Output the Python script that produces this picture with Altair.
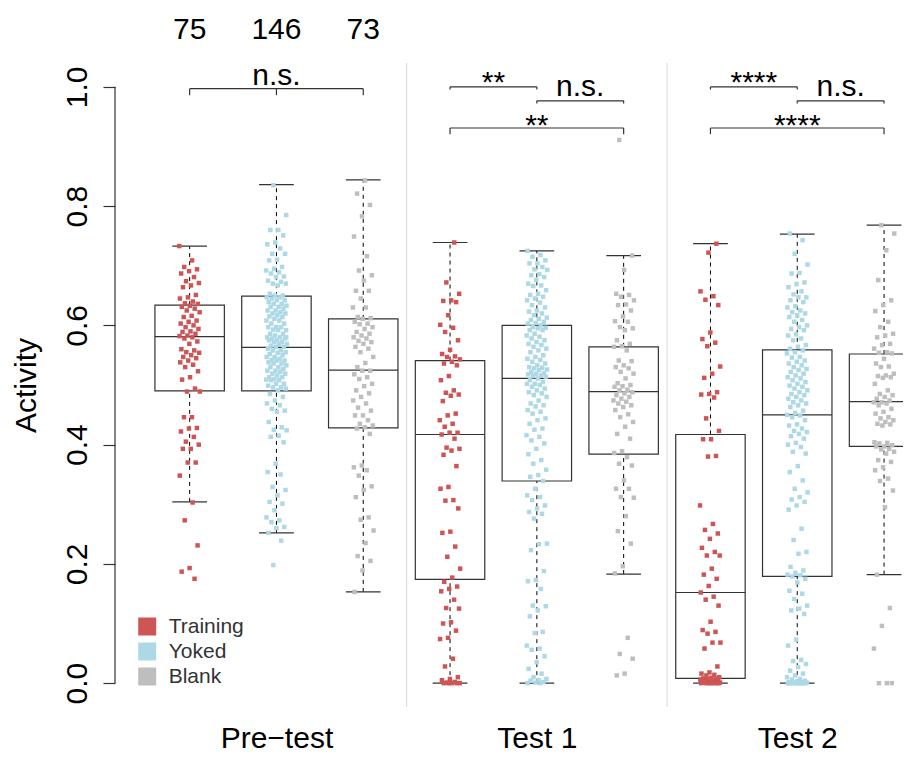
import altair as alt
import pandas as pd

# ---------------- data ----------------
conditions = ["Pre\u2212test", "Test 1", "Test 2"]
groups = ["Training", "Yoked", "Blank"]
group_n = [75, 146, 73]
colors = ["#CD5555", "#ADD8E6", "#BEBEBE"]

# box statistics, order: Pre-test (T,Y,B), Test 1 (T,Y,B), Test 2 (T,Y,B)
box_lower = [0.304, 0.252, 0.153, 0.000, 0.000, 0.183, 0.000, 0.000, 0.182]
box_q1 = [0.490, 0.490, 0.428, 0.174, 0.339, 0.384, 0.008, 0.179, 0.397]
box_median = [0.581, 0.563, 0.525, 0.417, 0.511, 0.489, 0.152, 0.450, 0.472]
box_q3 = [0.634, 0.649, 0.611, 0.541, 0.600, 0.564, 0.417, 0.559, 0.552]
box_upper = [0.733, 0.836, 0.844, 0.739, 0.725, 0.717, 0.737, 0.753, 0.768]

pre_training = [0.733, 0.709, 0.698, 0.694, 0.691, 0.687, 0.681, 0.674, 0.671, 0.667, 0.664, 0.651,
                0.647, 0.645, 0.640, 0.637, 0.636, 0.633, 0.631, 0.628, 0.625, 0.622, 0.616, 0.614,
                0.608, 0.606, 0.603, 0.600, 0.597, 0.594, 0.590, 0.589, 0.586, 0.583, 0.582, 0.580,
                0.578, 0.573, 0.569, 0.560, 0.558, 0.555, 0.554, 0.550, 0.547, 0.545, 0.541, 0.538,
                0.534, 0.530, 0.523, 0.513, 0.509, 0.494, 0.489, 0.489, 0.446, 0.446, 0.428, 0.427,
                0.422, 0.413, 0.405, 0.400, 0.393, 0.393, 0.370, 0.370, 0.348, 0.303, 0.273, 0.231,
                0.193, 0.187, 0.175]
pre_yoked = [0.835, 0.785, 0.760, 0.760, 0.751, 0.739, 0.736, 0.729, 0.720, 0.720, 0.710, 0.709,
             0.698, 0.695, 0.692, 0.689, 0.687, 0.682, 0.681, 0.675, 0.673, 0.670, 0.670, 0.667,
             0.653, 0.650, 0.650, 0.647, 0.647, 0.645, 0.642, 0.642, 0.639, 0.636, 0.636, 0.633,
             0.631, 0.631, 0.628, 0.625, 0.625, 0.622, 0.620, 0.620, 0.617, 0.615, 0.614, 0.611,
             0.608, 0.608, 0.603, 0.603, 0.597, 0.597, 0.597, 0.593, 0.592, 0.592, 0.586, 0.586,
             0.583, 0.580, 0.580, 0.578, 0.578, 0.575, 0.575, 0.572, 0.572, 0.569, 0.569, 0.566,
             0.564, 0.564, 0.561, 0.558, 0.558, 0.555, 0.554, 0.552, 0.550, 0.547, 0.547, 0.544,
             0.542, 0.541, 0.541, 0.538, 0.536, 0.536, 0.533, 0.530, 0.530, 0.527, 0.524, 0.524,
             0.522, 0.519, 0.519, 0.516, 0.513, 0.513, 0.510, 0.509, 0.508, 0.508, 0.502, 0.502,
             0.499, 0.496, 0.496, 0.494, 0.491, 0.485, 0.480, 0.474, 0.469, 0.466, 0.460, 0.457,
             0.455, 0.438, 0.429, 0.425, 0.424, 0.415, 0.413, 0.404, 0.368, 0.354, 0.350, 0.329,
             0.324, 0.315, 0.304, 0.301, 0.290, 0.278, 0.273, 0.270, 0.262, 0.260, 0.252, 0.239,
             0.198, 0.580]
pre_blank = [0.843, 0.821, 0.802, 0.783, 0.749, 0.716, 0.692, 0.684, 0.675, 0.658, 0.658, 0.645,
             0.630, 0.630, 0.614, 0.612, 0.611, 0.606, 0.603, 0.602, 0.597, 0.594, 0.589, 0.586,
             0.583, 0.580, 0.578, 0.574, 0.572, 0.569, 0.564, 0.561, 0.555, 0.547, 0.537, 0.530,
             0.524, 0.524, 0.518, 0.513, 0.510, 0.502, 0.498, 0.491, 0.486, 0.480, 0.474, 0.469,
             0.462, 0.457, 0.449, 0.449, 0.441, 0.435, 0.432, 0.429, 0.427, 0.418, 0.365, 0.362,
             0.357, 0.348, 0.330, 0.324, 0.312, 0.278, 0.274, 0.256, 0.235, 0.213, 0.205, 0.189,
             0.153]
t1_training = [0.739, 0.672, 0.653, 0.642, 0.641, 0.639, 0.617, 0.601, 0.596, 0.589, 0.575, 0.559,
               0.552, 0.548, 0.547, 0.543, 0.539, 0.536, 0.533, 0.515, 0.508, 0.491, 0.487, 0.484,
               0.482, 0.473, 0.452, 0.449, 0.441, 0.435, 0.430, 0.420, 0.420, 0.417, 0.410, 0.395,
               0.393, 0.390, 0.383, 0.364, 0.329, 0.326, 0.307, 0.306, 0.293, 0.254, 0.252, 0.229,
               0.212, 0.192, 0.177, 0.170, 0.162, 0.158, 0.154, 0.140, 0.126, 0.125, 0.102, 0.100,
               0.088, 0.076, 0.074, 0.041, 0.028, 0.010, 0.007, 0.005, 0.002, 0.001, 0.000, 0.000,
               0.000, 0.000, 0.000]
t1_yoked = [0.725, 0.718, 0.715, 0.709, 0.704, 0.704, 0.698, 0.694, 0.693, 0.686, 0.684, 0.681,
            0.676, 0.670, 0.667, 0.666, 0.659, 0.653, 0.651, 0.648, 0.645, 0.642, 0.638, 0.634,
            0.630, 0.625, 0.623, 0.620, 0.617, 0.613, 0.611, 0.609, 0.606, 0.604, 0.603, 0.600,
            0.597, 0.596, 0.595, 0.592, 0.592, 0.586, 0.583, 0.581, 0.578, 0.575, 0.572, 0.569,
            0.567, 0.564, 0.561, 0.558, 0.555, 0.550, 0.547, 0.544, 0.542, 0.539, 0.536, 0.533,
            0.530, 0.529, 0.528, 0.526, 0.525, 0.522, 0.520, 0.519, 0.518, 0.516, 0.515, 0.514,
            0.511, 0.508, 0.505, 0.502, 0.502, 0.500, 0.497, 0.494, 0.491, 0.488, 0.486, 0.483,
            0.480, 0.474, 0.469, 0.466, 0.464, 0.458, 0.455, 0.452, 0.444, 0.441, 0.435, 0.427,
            0.425, 0.416, 0.413, 0.407, 0.402, 0.393, 0.384, 0.374, 0.368, 0.358, 0.349, 0.346,
            0.339, 0.326, 0.315, 0.312, 0.307, 0.298, 0.293, 0.287, 0.284, 0.276, 0.234, 0.233,
            0.223, 0.188, 0.173, 0.171, 0.158, 0.130, 0.129, 0.122, 0.112, 0.086, 0.084, 0.063,
            0.058, 0.056, 0.045, 0.035, 0.024, 0.016, 0.010, 0.007, 0.005, 0.004, 0.002, 0.001,
            0.000, 0.000]
t1_blank = [0.911, 0.717, 0.693, 0.653, 0.651, 0.648, 0.642, 0.635, 0.634, 0.625, 0.615, 0.607,
            0.606, 0.597, 0.595, 0.592, 0.575, 0.569, 0.565, 0.564, 0.558, 0.541, 0.540, 0.533,
            0.530, 0.528, 0.522, 0.519, 0.511, 0.503, 0.500, 0.498, 0.497, 0.492, 0.491, 0.488,
            0.486, 0.483, 0.480, 0.477, 0.474, 0.472, 0.469, 0.466, 0.463, 0.458, 0.451, 0.446,
            0.438, 0.430, 0.418, 0.410, 0.389, 0.386, 0.379, 0.368, 0.365, 0.340, 0.326, 0.326,
            0.312, 0.311, 0.280, 0.255, 0.234, 0.196, 0.184, 0.076, 0.049, 0.041, 0.016, 0.013]
t2_training = [0.737, 0.722, 0.657, 0.649, 0.643, 0.634, 0.588, 0.577, 0.571, 0.565, 0.531, 0.519,
               0.512, 0.488, 0.485, 0.484, 0.479, 0.444, 0.423, 0.409, 0.409, 0.381, 0.380, 0.298,
               0.267, 0.257, 0.251, 0.242, 0.227, 0.220, 0.214, 0.214, 0.192, 0.182, 0.175, 0.163,
               0.152, 0.145, 0.140, 0.130, 0.103, 0.089, 0.086, 0.083, 0.068, 0.068, 0.058, 0.028,
               0.018, 0.016, 0.014, 0.013, 0.010, 0.009, 0.008, 0.007, 0.007, 0.006, 0.005, 0.004,
               0.004, 0.003, 0.003, 0.002, 0.002, 0.001, 0.001, 0.001, 0.000, 0.000, 0.000, 0.000,
               0.000, 0.000, 0.000]
t2_yoked = [0.754, 0.743, 0.720, 0.702, 0.688, 0.687, 0.672, 0.669, 0.664, 0.657, 0.652, 0.647,
            0.647, 0.642, 0.639, 0.632, 0.630, 0.625, 0.622, 0.620, 0.617, 0.614, 0.609, 0.606,
            0.600, 0.597, 0.594, 0.592, 0.585, 0.583, 0.578, 0.575, 0.567, 0.564, 0.561, 0.558,
            0.555, 0.553, 0.547, 0.546, 0.541, 0.539, 0.536, 0.533, 0.530, 0.527, 0.525, 0.522,
            0.519, 0.516, 0.513, 0.511, 0.508, 0.505, 0.502, 0.499, 0.497, 0.494, 0.491, 0.488,
            0.485, 0.483, 0.480, 0.477, 0.474, 0.471, 0.469, 0.466, 0.463, 0.457, 0.453, 0.450,
            0.449, 0.446, 0.441, 0.434, 0.432, 0.427, 0.423, 0.421, 0.418, 0.414, 0.410, 0.403,
            0.400, 0.396, 0.388, 0.385, 0.364, 0.354, 0.340, 0.326, 0.320, 0.312, 0.308, 0.304,
            0.298, 0.291, 0.259, 0.240, 0.220, 0.217, 0.195, 0.189, 0.185, 0.182, 0.181, 0.179,
            0.175, 0.169, 0.155, 0.150, 0.141, 0.130, 0.125, 0.122, 0.116, 0.073, 0.063, 0.039,
            0.037, 0.032, 0.027, 0.021, 0.016, 0.013, 0.010, 0.007, 0.006, 0.004, 0.003, 0.002,
            0.002, 0.001, 0.001, 0.000, 0.000, 0.000, 0.000, 0.000, 0.000, 0.000, 0.000, 0.000,
            0.000, 0.000]
t2_blank = [0.768, 0.754, 0.726, 0.676, 0.642, 0.634, 0.624, 0.606, 0.597, 0.586, 0.583, 0.580,
            0.569, 0.567, 0.561, 0.555, 0.554, 0.553, 0.544, 0.536, 0.531, 0.530, 0.519, 0.516,
            0.515, 0.513, 0.512, 0.502, 0.491, 0.485, 0.483, 0.480, 0.477, 0.474, 0.471, 0.471,
            0.469, 0.466, 0.460, 0.455, 0.452, 0.446, 0.444, 0.441, 0.438, 0.435, 0.434, 0.432,
            0.404, 0.403, 0.402, 0.399, 0.397, 0.397, 0.393, 0.392, 0.388, 0.385, 0.374, 0.371,
            0.362, 0.357, 0.343, 0.339, 0.323, 0.295, 0.182, 0.126, 0.096, 0.058, 0.000, 0.000,
            0.000]

# significance brackets
bracket_from = [1, 4, 5, 4, 7, 8, 7]
bracket_to = [3, 5, 6, 6, 8, 9, 9]
bracket_y = [0.997, 1.000, 0.9765, 0.931, 1.000, 0.9765, 0.931]
bracket_tick_end = [0.986, 0.9956, 0.972, 0.9206, 0.9956, 0.972, 0.9206]
bracket_label = ["n.s.", "**", "n.s.", "**", "****", "n.s.", "****"]
bracket_label_y = [1.003, 0.992, 0.9844, 0.9195, 0.992, 0.9844, 0.9195]
extra_tick_x = [2]          # middle tick of the Pre-test bracket
extra_tick_y = [0.997]
extra_tick_end = [0.986]

separators = [3.5, 6.5]
count_y = 1.081
axis_range = [0.0, 1.0]
y_ticks = [0, 0.2, 0.4, 0.6, 0.8, 1.0]
x_label_pos = [2, 5, 8]

# ---------------- tables ----------------
series = [pre_training, pre_yoked, pre_blank,
          t1_training, t1_yoked, t1_blank,
          t2_training, t2_yoked, t2_blank]
rows = []
k = 0
for i, vals in enumerate(series):
    for v in vals:
        rows.append({"pos": i + 1, "group": groups[i % 3], "value": v, "k": k})
        k += 1
points_df = pd.DataFrame(rows)

box_df = pd.DataFrame({
    "pos": list(range(1, 10)),
    "lo": box_lower, "q1": box_q1, "med": box_median, "q3": box_q3, "hi": box_upper,
})

br_df = pd.DataFrame({"x1": bracket_from, "x2": bracket_to, "y": bracket_y,
                      "label": bracket_label, "ly": bracket_label_y})
br_df["xm"] = (br_df["x1"] + br_df["x2"]) / 2
tick_df = pd.DataFrame({
    "x": bracket_from + bracket_to + extra_tick_x,
    "y": bracket_y + bracket_y + extra_tick_y,
    "y2": bracket_tick_end + bracket_tick_end + extra_tick_end,
})
count_df = pd.DataFrame({"pos": [1, 2, 3], "n": group_n, "y": [count_y] * 3})
sep_df = pd.DataFrame({"x": separators})
axis_df = pd.DataFrame({"lo": [axis_range[0]], "hi": [axis_range[1]]})

# ---------------- chart ----------------
W, H = 788, 644
FONT = "Liberation Sans"
xs = alt.Scale(domain=[0.14, 0.14 + W / 86.8], nice=False, zero=False)
ys = alt.Scale(domain=[-0.04, 1.04], nice=False, zero=False)
label_expr = " : ".join(
    [f"datum.value == {p} ? '{c}'" for p, c in zip(x_label_pos[:2], conditions[:2])]
    + [f"'{conditions[2]}'"]
)

x_axis = alt.Axis(values=x_label_pos, labelExpr=label_expr, domain=False, ticks=False, grid=False,
                  labelFontSize=30, labelPadding=40, labelBaseline="alphabetic", labelAngle=0,
                  labelAlign="center", labelColor="black", labelFont=FONT, title=None,
                  labelFlush=False, labelOverlap=False)
y_axis = alt.Axis(values=y_ticks, format=".1f", domain=False, grid=False,
                  tickSize=12, tickColor="#333333", tickWidth=1.2,
                  labelAngle=270, labelAlign="center", labelBaseline="alphabetic",
                  labelFontSize=30, labelPadding=17, labelColor="black", labelFont=FONT,
                  labelFlush=False, labelOverlap=False,
                  title="Activity", titleFontSize=30, titleFontWeight="normal", titleFont=FONT,
                  titleColor="black", titleAngle=270, titleX=-80, titleY=322,
                  titleAlign="center", titleBaseline="alphabetic")


def X(field):
    return alt.X(field, scale=xs, axis=x_axis)


def Y(field):
    return alt.Y(field, scale=ys, axis=y_axis)


sep = alt.Chart(sep_df).mark_rule(color="#D9D9D9", strokeWidth=1).encode(
    x=X("x:Q"), y=alt.value(0), y2=alt.value(H))

base_box = alt.Chart(box_df).transform_calculate(
    xl="datum.pos - 0.4", xr="datum.pos + 0.4", cl="datum.pos - 0.2", cr="datum.pos + 0.2")

whisk_hi = base_box.mark_rule(color="black", strokeWidth=1, strokeDash=[4, 4]).encode(
    x=X("pos:Q"), y=Y("q3:Q"), y2="hi:Q")
whisk_lo = base_box.mark_rule(color="black", strokeWidth=1, strokeDash=[4, 4]).encode(
    x=X("pos:Q"), y=Y("lo:Q"), y2="q1:Q")
cap_hi = base_box.mark_rule(color="#333333", strokeWidth=1.2, clip=True).encode(
    x=X("cl:Q"), x2="cr:Q", y=Y("hi:Q"))
cap_lo = base_box.mark_rule(color="#333333", strokeWidth=1.2, clip=True).encode(
    x=X("cl:Q"), x2="cr:Q", y=Y("lo:Q"))
box = base_box.mark_rect(fill=None, stroke="#333333", strokeWidth=1.2, clip=True).encode(
    x=X("xl:Q"), x2="xr:Q", y=Y("q1:Q"), y2="q3:Q")
med = base_box.mark_rule(color="#333333", strokeWidth=1.2, clip=True).encode(
    x=X("xl:Q"), x2="xr:Q", y=Y("med:Q"))

pts = alt.Chart(points_df).transform_calculate(
    xj="datum.pos + (((datum.k * 0.6180339887) % 1) - 0.5) * 0.24"
).mark_square(size=20, opacity=1, filled=True, clip=True).encode(
    x=X("xj:Q"),
    y=Y("value:Q"),
    color=alt.Color("group:N", scale=alt.Scale(domain=groups, range=colors),
                    legend=alt.Legend(title=None, orient="none", legendX=21.7, legendY=553,
                                      padding=0, symbolType="square", symbolSize=324,
                                      symbolStrokeWidth=0, symbolOpacity=1, labelFontSize=21,
                                      labelFont=FONT, labelColor="#333333", labelOffset=11,
                                      rowPadding=3)),
)

br_line = alt.Chart(br_df).mark_rule(color="#333333", strokeWidth=1.2).encode(
    x=X("x1:Q"), x2="x2:Q", y=Y("y:Q"))
br_tick = alt.Chart(tick_df).mark_rule(color="#333333", strokeWidth=1.2).encode(
    x=X("x:Q"), y=Y("y:Q"), y2="y2:Q")
br_text = alt.Chart(br_df).mark_text(font=FONT, fontSize=30, baseline="alphabetic",
                                     align="center", color="black").encode(
    x=X("xm:Q"), y=Y("ly:Q"), text="label:N")
cnt_text = alt.Chart(count_df).mark_text(font=FONT, fontSize=30, baseline="alphabetic",
                                         align="center", color="black").encode(
    x=X("pos:Q"), y=Y("y:Q"), text="n:Q")
axis_line = alt.Chart(axis_df).mark_rule(color="#333333", strokeWidth=1.2).encode(
    x=alt.value(0), y=Y("lo:Q"), y2="hi:Q")

chart = alt.layer(
    sep, whisk_hi, whisk_lo, cap_hi, cap_lo, box, med, pts,
    br_line, br_tick, br_text, cnt_text, axis_line
).properties(
    width=W, height=H,
    autosize=alt.AutoSizeParams(type="none"),
    padding={"left": 107, "top": 55, "right": 0, "bottom": 46},
    background="white",
).configure_view(stroke=None)

chart.save("out.html", embed_options={"renderer": "svg", "actions": False})
